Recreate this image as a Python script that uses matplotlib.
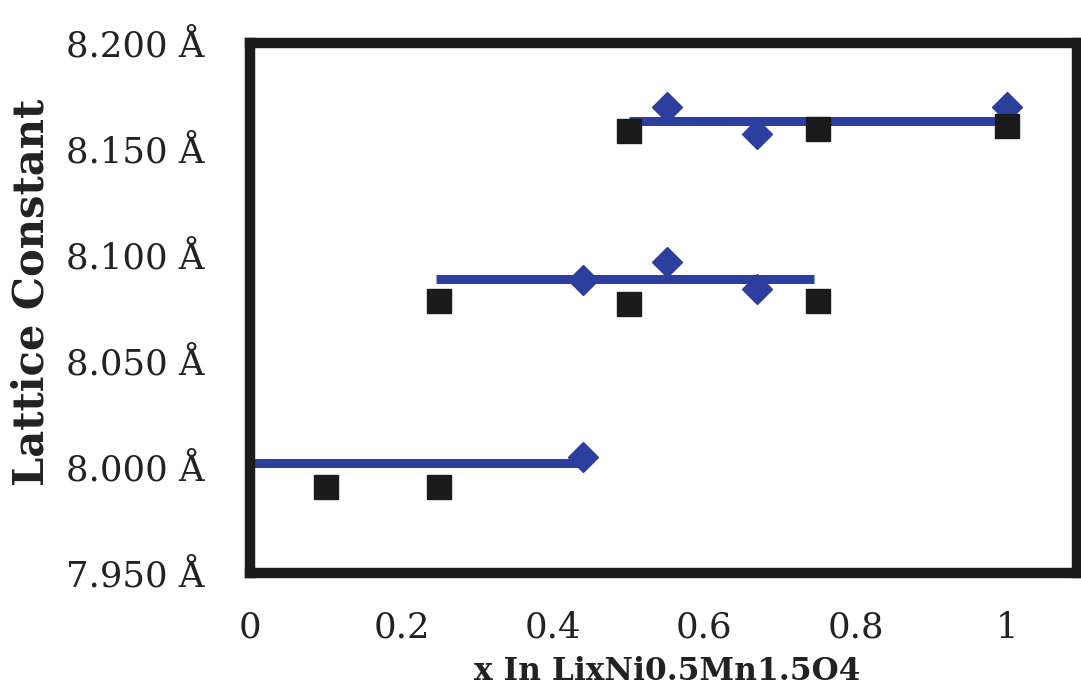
import matplotlib
matplotlib.use('Agg')
import matplotlib.pyplot as plt

# measured lattice constants (Angstrom)
sq_x = [0.1, 0.25, 0.25, 0.5, 0.75, 0.5, 0.75, 1.0]
sq_y = [7.9905, 7.9905, 8.0783, 8.0770, 8.0783, 8.1585, 8.1594, 8.1610]

dia_x = [0.44, 0.44, 0.55, 0.67, 0.55, 0.67, 1.0]
dia_y = [8.0045, 8.0880, 8.0965, 8.0840, 8.1698, 8.1570, 8.1698]

# average lines for each phase: start x, end x, level
seg_x0 = [0.0, 0.245, 0.5]
seg_x1 = [0.44, 0.745, 0.995]
seg_y = [8.0018, 8.0885, 8.1630]

x_ticks = [0, 0.2, 0.4, 0.6, 0.8, 1.0]
x_ticklabels = ['0', '0.2', '0.4', '0.6', '0.8', '1']
y_ticks = [7.95, 8.0, 8.05, 8.1, 8.15, 8.2]
y_ticklabels = ['%.3f Å' % v for v in y_ticks]

blue = '#2d3f9e'

plt.rcParams['font.family'] = ['DejaVu Serif']

fig = plt.figure(figsize=(10.81, 6.94), dpi=100)
ax = fig.add_axes([250 / 1081, 1 - 573 / 694, 827 / 1081, 530 / 694])

for x0, x1, y in zip(seg_x0, seg_x1, seg_y):
    ax.plot([x0, x1], [y, y], color=blue, linewidth=6.5, solid_capstyle='butt', zorder=2)

ax.plot(dia_x, dia_y, linestyle='none', marker='D', markersize=15,
        color=blue, zorder=3)
ax.plot(sq_x, sq_y, linestyle='none', marker='s', markersize=17,
        color='#1b1b1b', zorder=4)

ax.set_xlim(0, 1.092)
ax.set_ylim(7.95, 8.2)
ax.set_xticks(x_ticks)
ax.set_xticklabels(x_ticklabels)
ax.set_yticks(y_ticks)
ax.set_yticklabels(y_ticklabels)
ax.tick_params(axis='both', length=0, labelsize=25.5, colors='#222222')
ax.tick_params(axis='y', pad=33)
ax.tick_params(axis='x', pad=27)

for s in ax.spines.values():
    s.set_linewidth(7.5)
    s.set_color('#1c1c1c')

fig.text(32 / 1081, 1 - 292 / 694, 'Lattice Constant', rotation=90,
         ha='center', va='center', fontsize=30, fontweight='bold', color='#222222')
fig.text(667 / 1081, 1 - 671 / 694, 'x In LixNi0.5Mn1.5O4',
         ha='center', va='center', fontsize=22.5, fontweight='bold', color='#222222')

fig.savefig('out.png', dpi=100)
